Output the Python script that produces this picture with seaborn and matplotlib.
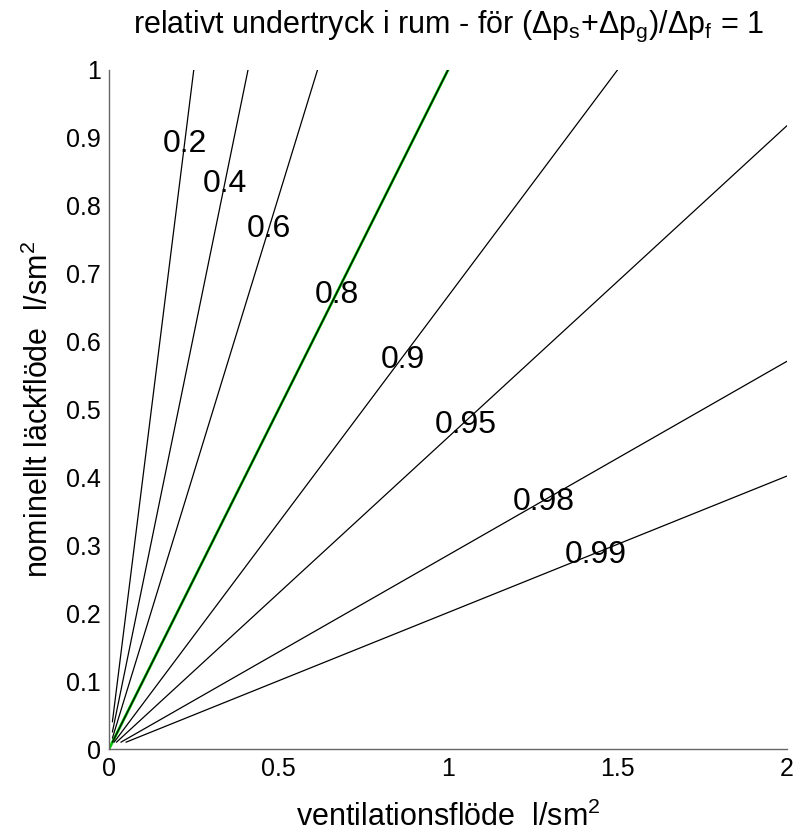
import pandas as pd
import seaborn as sns
import matplotlib
matplotlib.use('Agg')
import matplotlib.pyplot as plt

sns.set_style('white')
plt.rcParams['font.family'] = ['Liberation Sans', 'DejaVu Sans']
plt.rcParams['mathtext.fontset'] = 'custom'
plt.rcParams['mathtext.rm'] = 'Liberation Sans'
plt.rcParams['mathtext.it'] = 'Liberation Sans'
plt.rcParams['text.color'] = 'black'
plt.rcParams['axes.labelcolor'] = 'black'

# konturnivåer och linjernas start-/slutpunkter (avlästa)
levels = ['0.2', '0.4', '0.6', '0.8', '0.9', '0.95', '0.98', '0.99']
x_start = [0.010, 0.010, 0.010, 0.010, 0.015, 0.022, 0.035, 0.050]
y_start = [0.040, 0.025, 0.016, 0.010, 0.010, 0.010, 0.010, 0.010]
x_end = [0.250, 0.410, 0.615, 1.000, 1.500, 2.000, 2.000, 2.000]
y_end = [1.000, 1.000, 1.000, 1.000, 1.000, 0.918, 0.571, 0.402]

# etiketternas positioner (baslinje)
label_x = [0.224, 0.342, 0.473, 0.672, 0.866, 1.053, 1.283, 1.437]
label_y = [0.879, 0.820, 0.754, 0.657, 0.561, 0.465, 0.352, 0.274]

# grön referenslinje
green_x = [0.0, 1.0]
green_y = [0.0, 1.0]

rows = []
for i, lev in enumerate(levels):
    rows.append({'nivå': lev, 'x': x_start[i], 'y': y_start[i]})
    rows.append({'nivå': lev, 'x': x_end[i], 'y': y_end[i]})
df = pd.DataFrame(rows)
df_green = pd.DataFrame({'x': green_x, 'y': green_y})

fig = plt.figure(figsize=(7.98, 8.38), dpi=100)
ax = fig.add_axes([0.1366, 0.1062, 0.8496, 0.8103])

sns.lineplot(data=df_green, x='x', y='y', color='#00cc00', linewidth=2.0,
             estimator=None, sort=False, ax=ax)
sns.lineplot(data=df, x='x', y='y', hue='nivå', palette=['black'] * len(levels),
             linewidth=0.9, estimator=None, sort=False, legend=False, ax=ax)

for i, lev in enumerate(levels):
    ax.text(label_x[i], label_y[i], lev, fontsize=23, ha='center', va='baseline')

ax.set_xlim(0, 2)
ax.set_ylim(0, 1)
ax.set_xticks([0, 0.5, 1, 1.5, 2])
ax.set_xticklabels(['0', '0.5', '1', '1.5', '2'])
ax.set_yticks([i / 10 for i in range(11)])
ax.set_yticklabels(['0'] + ['0.%d' % i for i in range(1, 10)] + ['1'])
ax.tick_params(direction='in', length=5, width=1, color='#666666',
               labelcolor='black', labelsize=18, pad=6)

for side in ['top', 'right']:
    ax.spines[side].set_visible(False)
for side in ['left', 'bottom']:
    ax.spines[side].set_color('#666666')
    ax.spines[side].set_linewidth(1)

ax.set_xlabel('ventilationsflöde  l/sm$^2$', fontsize=22, labelpad=15)
ax.set_ylabel('nominellt läckflöde  l/sm$^2$', fontsize=22, labelpad=8)
fig.text(0.5614, 1 - 33 / 838,
         r'relativt undertryck i rum - för ($\Delta$p$_\mathrm{s}$+$\Delta$p$_\mathrm{g}$)/$\Delta$p$_\mathrm{f}$ = 1',
         fontsize=22, ha='center', va='baseline')

fig.savefig('out.png', dpi=100)
